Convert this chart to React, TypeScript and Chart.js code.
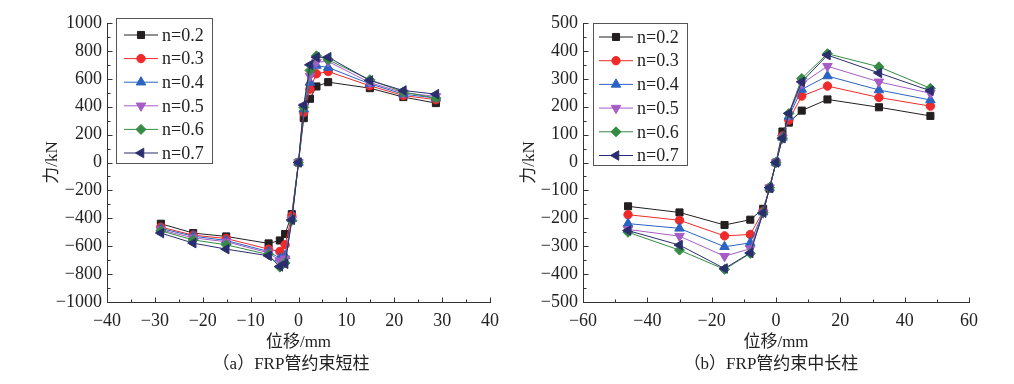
import React, { useEffect, useRef } from 'react';
import { Chart, registerables } from 'chart.js';

Chart.register(...registerables);

// ---------- data ----------
const seriesLabels = ['n=0.2', 'n=0.3', 'n=0.4', 'n=0.5', 'n=0.6', 'n=0.7'];

// (a) short columns
const dispShort = [-28.75, -22, -15.1, -6.25, -3.9, -2.8, -1.4, 0, 1.1, 2.4, 3.75, 6.2, 14.9, 21.9, 28.7];
const shortN02 = [-439, -506, -530, -580, -559, -513, -370, 0, 318, 457, 545, 576, 533, 469, 426];
const shortN03 = [-463, -521, -545, -621, -638, -590, -382, 0, 358, 526, 636, 652, 550, 480, 450];
const shortN04 = [-473, -528, -559, -638, -686, -669, -404, 0, 383, 574, 695, 681, 564, 490, 462];
const shortN05 = [-483, -540, -568, -648, -705, -690, -410, 0, 400, 620, 720, 724, 573, 500, 474];
const shortN06 = [-490, -555, -590, -660, -750, -720, -415, 0, 395, 660, 765, 736, 593, 505, 462];
const shortN07 = [-506, -578, -621, -669, -745, -726, -411, 0, 411, 700, 755, 755, 588, 516, 490];

// (b) medium-long columns
const dispLong = [-46, -30, -16, -8, -4, -2, 0, 2, 4, 8, 16, 32, 48];
const longN02 = [-157, -179, -224, -205, -166, -94, 0, 111, 143, 186, 226, 198, 167];
const longN03 = [-187, -207, -263, -258, -175, -90, 0, 95, 152, 238, 274, 233, 202];
const longN04 = [-219, -236, -302, -288, -178, -90, 0, 90, 165, 262, 310, 260, 224];
const longN05 = [-240, -264, -336, -309, -180, -90, 0, 88, 170, 282, 345, 289, 248];
const longN06 = [-250, -314, -383, -326, -180, -90, 0, 87, 176, 301, 390, 343, 266];
const longN07 = [-244, -296, -380, -324, -180, -90, 0, 87, 176, 289, 385, 321, 257];

const shortSeries = [shortN02, shortN03, shortN04, shortN05, shortN06, shortN07];
const longSeries = [longN02, longN03, longN04, longN05, longN06, longN07];

const xTitle = '位移/mm';
const yTitle = '力/kN';
const captionA = '（a）FRP管约束短柱';
const captionB = '（b）FRP管约束中长柱';

// ---------- styles ----------
const colors = ['#231f20', '#ee2a2a', '#2a63c1', '#a65cc6', '#358b42', '#2b2e6e'];
const pointStyles = ['rect', 'circle', 'triangle', 'triangle', 'rectRot', 'triangle'];
const rotations = [0, 0, 0, 180, 0, -90];
const radii = [5, 4.2, 5.5, 5.5, 5, 5.5];

const LATIN = '"Liberation Serif", "Times New Roman", serif';
const MIXED = '"Liberation Serif", "Noto Sans CJK SC", serif';
const AXIS_COLOR = '#333';
const TEXT_COLOR = '#222';

function fmt(v: number) {
  const n = Number(v);
  return n < 0 ? '\u2212' + Math.abs(n) : String(n);
}

function drawMarker(ctx: CanvasRenderingContext2D, style: string, x: number, y: number, r: number, rotDeg: number) {
  let rad = (rotDeg * Math.PI) / 180;
  ctx.beginPath();
  if (style === 'circle') {
    ctx.arc(x, y, r, 0, Math.PI * 2);
  } else if (style === 'rect') {
    const s = Math.SQRT1_2 * r;
    ctx.rect(x - s, y - s, 2 * s, 2 * s);
  } else if (style === 'rectRot') {
    ctx.moveTo(x, y - r);
    ctx.lineTo(x + r, y);
    ctx.lineTo(x, y + r);
    ctx.lineTo(x - r, y);
    ctx.closePath();
  } else if (style === 'triangle') {
    const t = (2 * Math.PI) / 3;
    ctx.moveTo(x + Math.sin(rad) * r, y - Math.cos(rad) * r);
    rad += t;
    ctx.lineTo(x + Math.sin(rad) * r, y - Math.cos(rad) * r);
    rad += t;
    ctx.lineTo(x + Math.sin(rad) * r, y - Math.cos(rad) * r);
    ctx.closePath();
  }
  ctx.fill();
  ctx.stroke();
}

const framePlugin = {
  id: 'frameInward',
  afterDraw(chart: any, _args: any, opts: any) {
    const { ctx, chartArea } = chart;
    const { left, right, top, bottom } = chartArea;
    const xs = chart.scales.x;
    const ys = chart.scales.y;
    ctx.save();
    ctx.strokeStyle = AXIS_COLOR;
    ctx.lineWidth = 1;
    ctx.beginPath();
    const L = Math.round(left) + 0.5;
    const B = Math.round(bottom) + 0.5;
    ctx.moveTo(L, Math.round(top));
    ctx.lineTo(L, B);
    ctx.lineTo(Math.round(right) + 1, B);
    const eps = 1e-6;
    for (let v = xs.min; v <= xs.max + eps; v += opts.xMinor) {
      const major = Math.abs(v / opts.xMajor - Math.round(v / opts.xMajor)) < eps;
      const px = Math.round(xs.getPixelForValue(v)) + 0.5;
      ctx.moveTo(px, B);
      ctx.lineTo(px, B - (major ? 5 : 3));
    }
    for (let v = ys.min; v <= ys.max + eps; v += opts.yMinor) {
      const major = Math.abs(v / opts.yMajor - Math.round(v / opts.yMajor)) < eps;
      const py = Math.round(ys.getPixelForValue(v)) + 0.5;
      ctx.moveTo(L, py);
      ctx.lineTo(L + (major ? 5 : 3), py);
    }
    ctx.stroke();

    // legend
    const lg = opts.legend;
    ctx.fillStyle = '#fff';
    ctx.strokeStyle = '#555';
    ctx.lineWidth = 1;
    ctx.fillRect(lg.x, lg.y, lg.w, lg.h);
    ctx.strokeRect(lg.x + 0.5, lg.y + 0.5, lg.w, lg.h);
    ctx.font = '18px ' + LATIN;
    ctx.textBaseline = 'middle';
    ctx.textAlign = 'left';
    for (let i = 0; i < seriesLabels.length; i++) {
      const yy = lg.firstY + i * lg.step;
      ctx.strokeStyle = colors[i];
      ctx.fillStyle = colors[i];
      ctx.lineWidth = 1;
      ctx.beginPath();
      ctx.moveTo(lg.lineX, yy);
      ctx.lineTo(lg.lineX + lg.lineW, yy);
      ctx.stroke();
      drawMarker(ctx, pointStyles[i], lg.lineX + lg.lineW / 2, yy, radii[i], rotations[i]);
      ctx.fillStyle = TEXT_COLOR;
      ctx.fillText(seriesLabels[i], lg.textX, yy + 1);
    }
    ctx.restore();
  },
};

interface PanelProps {
  disp: number[];
  series: number[][];
  xMin: number; xMax: number; xStep: number; xMinor: number;
  yMin: number; yMax: number; yStep: number; yMinor: number;
  yAxisWidth: number; padRight: number; yTitlePad: number;
  legend: any;
}

function Panel(p: PanelProps) {
  const ref = useRef<HTMLCanvasElement>(null);
  useEffect(() => {
    if (!ref.current) return;
    const tickFont = { family: LATIN, size: 18 };
    const titleFont = { family: MIXED, size: 17 };
    const datasets = p.series.map((vals, i) => ({
      label: seriesLabels[i],
      data: p.disp.map((x, k) => ({ x, y: vals[k] })),
      borderColor: colors[i],
      backgroundColor: colors[i],
      borderWidth: 1,
      pointStyle: pointStyles[i] as any,
      pointRotation: rotations[i],
      pointRadius: radii[i],
      pointBorderWidth: 1,
      pointBorderColor: colors[i],
      pointBackgroundColor: colors[i],
      tension: 0,
      fill: false,
      order: seriesLabels.length - i,
    }));
    const chart = new Chart(ref.current, {
      type: 'line',
      data: { datasets },
      plugins: [framePlugin as any],
      options: {
        animation: false,
        responsive: false,
        maintainAspectRatio: false,
        layout: { padding: { left: 0, top: 23, right: p.padRight, bottom: 0 } },
        plugins: {
          legend: { display: false },
          tooltip: { enabled: false },
          frameInward: {
            xMajor: p.xStep, xMinor: p.xMinor, yMajor: p.yStep, yMinor: p.yMinor,
            legend: p.legend,
          },
        } as any,
        scales: {
          x: {
            type: 'linear',
            min: p.xMin, max: p.xMax,
            grid: { display: false, drawTicks: false, tickLength: 0 },
            border: { display: false },
            ticks: { stepSize: p.xStep, padding: 8, font: tickFont, color: TEXT_COLOR, callback: (v: any) => fmt(v), maxRotation: 0, autoSkip: false },
            title: { display: true, text: xTitle, font: titleFont, color: TEXT_COLOR, padding: { top: 0, bottom: 3 } },
            afterFit: (s: any) => { s.height = 54; },
          },
          y: {
            type: 'linear',
            min: p.yMin, max: p.yMax,
            grid: { display: false, drawTicks: false, tickLength: 0 },
            border: { display: false },
            ticks: { stepSize: p.yStep, padding: 5, font: tickFont, color: TEXT_COLOR, callback: (v: any) => fmt(v), autoSkip: false },
            title: { display: true, text: yTitle, font: titleFont, color: TEXT_COLOR, padding: { top: p.yTitlePad, bottom: 0 } },
            afterFit: (s: any) => { s.width = p.yAxisWidth; },
          },
        },
      } as any,
    });
    return () => chart.destroy();
  }, []);
  return <canvas ref={ref} width={507} height={356} style={{ display: 'block', width: 507, height: 356 }} />;
}

export default function App() {
  const capStyle: React.CSSProperties = {
    position: 'absolute', top: 354, width: 240, textAlign: 'center',
    fontFamily: MIXED, fontSize: 17, lineHeight: '20px', color: TEXT_COLOR, whiteSpace: 'nowrap',
  };
  return (
    <div style={{ position: 'absolute', left: 0, top: 0, width: 1014, height: 384, background: '#fff', overflow: 'hidden' }}>
      <div style={{ position: 'absolute', left: 0, top: 0 }}>
        <Panel
          disp={dispShort} series={shortSeries}
          xMin={-40} xMax={40} xStep={10} xMinor={5}
          yMin={-1000} yMax={1000} yStep={200} yMinor={100}
          yAxisWidth={107} padRight={16} yTitlePad={42}
          legend={{ x: 116, y: 18, w: 96, h: 145, firstY: 35, step: 23.6, lineX: 124, lineW: 34, textX: 162 }}
        />
      </div>
      <div style={{ position: 'absolute', left: 507, top: 0 }}>
        <Panel
          disp={dispLong} series={longSeries}
          xMin={-60} xMax={60} xStep={20} xMinor={10}
          yMin={-500} yMax={500} yStep={100} yMinor={50}
          yAxisWidth={76} padRight={45} yTitlePad={12}
          legend={{ x: 86, y: 23, w: 94, h: 142, firstY: 37, step: 23.7, lineX: 92, lineW: 34, textX: 130 }}
        />
      </div>
      <div style={{ ...capStyle, left: 291 - 120 }}>{captionA}</div>
      <div style={{ ...capStyle, left: 771 - 120 }}>{captionB}</div>
    </div>
  );
}
